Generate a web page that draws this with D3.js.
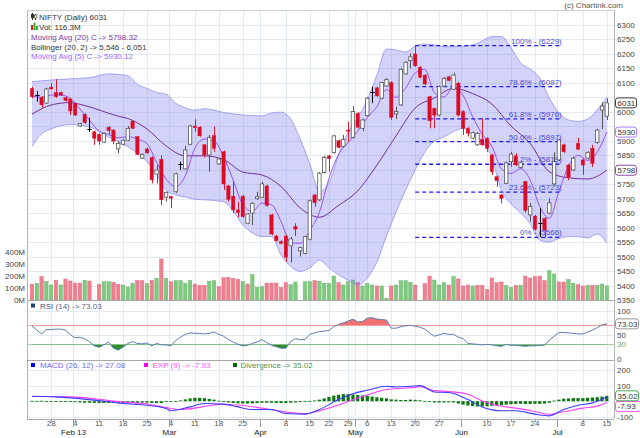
<!DOCTYPE html>
<html><head><meta charset="utf-8">
<script src="https://cdn.jsdelivr.net/npm/d3@7"></script>
<style>body{margin:0;background:#fff}svg{display:block;font-family:"Liberation Sans",Arial,Helvetica,sans-serif}</style>
</head><body><svg id="c" width="640" height="438"></svg>
<script>
// ---------------- DATA ----------------
const opens=[6081,6058,6049,6030,6085,6067,6067,6049,6044,6028,5951,5991,5941,5931,5923,5895,5947,5937,5872,5888,5902,5968,5914,5840,5872,5842,5785,5836,5705,5707,5724,5819,5803,5888,5951,5947,5886,5851,5918,5820,5862,5744,5709,5661,5709,5615,5650,5700,5705,5744,5644,5571,5552,5571,5537,5603,5520,5511,5560,5713,5696,5790,5848,5859,5900,5880,5937,5912,5995,5943,5987,6070,6083,6047,6089,6101,5993,6024,6131,6177,6200,6154,6127,6052,6012,5989,6089,6121,6078,6099,6001,5943,5909,5886,5905,5909,5851,5776,5713,5753,5828,5848,5808,5759,5644,5640,5615,5632,5650,5751,5834,5886,5816,5799,5891,5834,5840,5874,5894,6006,5985];
const highs=[6087,6072,6055,6083,6099,6113,6070,6052,6048,6032,5962,5995,5980,5934,5926,5928,5951,5940,5899,5905,5951,5972,5917,5856,5876,5846,5816,5850,5725,5710,5790,5828,5882,5955,5975,5950,5889,5920,5949,5840,5866,5748,5762,5690,5713,5650,5688,5724,5759,5748,5648,5575,5556,5575,5568,5615,5534,5572,5697,5716,5792,5848,5851,5921,5904,5920,5966,6020,5999,5976,6051,6087,6087,6104,6116,6105,6018,6151,6175,6202,6229,6158,6130,6055,6015,6091,6120,6125,6135,6103,6005,5947,5932,5930,5978,5912,5855,5780,5716,5828,5862,5857,5828,5762,5686,5644,5667,5636,5701,5860,5907,5890,5820,5845,5910,5838,5864,5886,5941,6033,6047];
const lows=[6047,6035,6014,6027,6077,6048,6055,6036,5989,5985,5949,5958,5931,5886,5886,5892,5922,5888,5857,5885,5899,5940,5851,5837,5855,5753,5753,5678,5690,5667,5720,5799,5800,5885,5931,5914,5843,5793,5862,5817,5730,5690,5650,5636,5634,5612,5609,5697,5702,5672,5574,5552,5543,5482,5479,5571,5500,5508,5556,5672,5692,5787,5793,5856,5874,5877,5897,5908,5943,5933,5984,6030,6052,6044,6086,5972,5975,6020,6128,6150,6155,6116,6092,5943,5943,5985,6086,6105,6075,5985,5920,5915,5905,5882,5883,5862,5782,5741,5684,5750,5810,5813,5804,5652,5621,5590,5568,5566,5646,5745,5830,5858,5764,5796,5868,5782,5836,5809,5890,5940,5972];
const closes=[6052,6058,6024,6079,6079,6052,6058,6039,6003,5989,5960,5963,5941,5909,5899,5925,5935,5899,5891,5902,5943,5943,5853,5853,5858,5765,5799,5696,5722,5701,5786,5819,5868,5951,5945,5917,5851,5911,5874,5837,5751,5698,5661,5652,5638,5647,5684,5707,5751,5676,5578,5555,5546,5498,5561,5595,5531,5569,5693,5686,5788,5843,5838,5917,5877,5905,5933,6001,5947,5972,6047,6070,6055,6101,6112,5981,6001,6147,6171,6190,6159,6119,6096,5969,5989,6087,6116,6108,6127,5989,5943,5926,5928,5926,5886,5874,5793,5762,5701,5824,5854,5817,5824,5659,5673,5594,5615,5592,5686,5828,5903,5862,5774,5840,5871,5816,5860,5822,5937,6020,6031];
const volumes=[130,138,193,151,124,163,124,174,157,140,140,163,157,0,130,151,151,146,130,124,107,138,160,160,135,163,179,339,179,151,160,160,138,160,132,121,121,154,160,110,184,187,179,171,154,132,209,105,110,140,140,140,105,143,127,149,0,151,151,160,154,138,138,198,143,124,151,165,146,116,138,124,116,116,14,116,124,160,160,146,124,0,138,198,165,124,143,124,193,174,116,124,116,121,121,88,182,143,149,121,105,121,121,198,182,193,198,160,242,215,149,149,171,138,127,116,121,121,121,132,116.3];
const volDir=[-1,1,-1,1,1,-1,1,-1,-1,-1,-1,1,-1,0,-1,1,1,-1,-1,1,1,1,-1,-1,1,-1,1,-1,1,-1,1,1,1,1,-1,-1,-1,1,1,-1,-1,-1,-1,-1,1,-1,1,1,1,-1,-1,-1,-1,-1,1,1,0,1,1,-1,1,1,1,1,-1,1,1,1,-1,1,1,1,-1,1,1,-1,1,1,1,1,-1,0,-1,-1,1,1,1,-1,1,-1,-1,-1,1,-1,-1,-1,-1,-1,-1,1,1,-1,1,-1,-1,-1,-1,-1,1,1,-1,-1,1,1,-1,-1,1,-1,1,1,1];
const bandIdx=[0,2,4,8,12,16,20,22,24,26,28,30,32,34,36,38,40,42,44,46,48,50,52,54,56,58,60,62,64,66,68,70,72,74,76,78,80,82,84,86,88,90,92,94,96,98,100,102,104,106,108,110,112,114,116,118,120];
const bbUpper=[6104,6107,6110,6114,6118,6131,6125,6095,6081,6067,6061,6030,6014,6006,6011,6006,5998,5993,5989,5987,5986,5996,5999,5975,5906,5820,5725,5755,5851,5930,5979,6041,6127,6217,6214,6207,6227,6234,6231,6225,6225,6227,6231,6245,6260,6260,6222,6169,6148,6117,6048,5996,5972,5967,5975,6006,6051];
const bbLower=[5880,5924,5941,5956,5948,5913,5879,5858,5828,5785,5730,5713,5706,5698,5696,5694,5689,5658,5609,5582,5569,5569,5506,5466,5449,5461,5488,5461,5437,5418,5402,5426,5481,5571,5654,5730,5799,5861,5899,5913,5932,5943,5920,5896,5841,5730,5682,5651,5613,5557,5550,5563,5569,5569,5564,5578,5546];
const ma20Idx=[0,3,6,8,10,13,16,18,20,24,28,32,36,40,44,48,52,56,60,64,68,72,76,80,84,88,92,96,100,104,108,112,116,120];
const ma20=[5992,6018,6030,6032,6026,6012,5995,5985,5977,5941,5882,5848,5848,5835,5792,5782,5742,5668,5636,5677,5727,5816,5917,6013,6048,6081,6063,6027,5951,5891,5793,5772,5768,5798.32];
const ma5Idx=d3.range(0,121,2);
const ma5=[6055,6050,6058,6058,6046,6010,5971,5934,5922,5910,5914,5906,5890,5826,5768,5741,5779,5874,5906,5900,5845,5764,5680,5656,5685,5679,5621,5548,5546,5590,5653,5770,5853,5894,5933,5980,6018,6077,6050,6082,6134,6147,6066,6051,6085,6057,5983,5922,5881,5803,5787,5804,5765,5673,5632,5725,5811,5850,5832,5861,5930.12];
const rsi=[68.6,60,52,61,61,62,62,60,50,44,45,42,36,27,24,29,35,22,18,24,32,36,32,31,33,27,32,29,29,27,38,45,51,54,53,53,52,53,56,51,47,40,35,30,27,28,32,35,40,34,28,25,22,22,36,42,40,40,51,54,57,58,59,67,72,75,79,83,77,78,85,86,83,82,81,64,64,67,69,70,68,66,62,54,47,50,53,51,51,45,42,32,31,30,29,30,29,27,26,30,28,28,27,26,27,27,28,28,39,47,55,55,54,53,52,52,56,60,65,71,73.03];
const macdIdx=[0,5,10,16,19,24,28,29,33,36,40,43,46,50,53,57,60,64,67,70,74,76,79,81,84,87,91,94,98,101,105,108,111,114,117,120];
const macdVals=[32,28,17,-4,-15,-26,-47,-62,-37,-15,-19,-37,-54,-54,-80,-84,-54,11,49,71,97,92,97,101,60,56,11,-37,-62,-62,-84,-95,-54,-26,-11,27.08];
const expIdx=[0,5,10,16,19,24,28,31,35,39,43,48,53,57,60,64,67,70,74,79,81,84,87,91,94,98,101,105,108,111,115,118,120];
const expVals=[31,30,25,5,-6,-18,-42,-54,-40,-21,-25,-45,-70,-81,-62,-25,10,40,76,87,94,70,63,45,2,-33,-45,-67,-85,-69,-45,-32,-7.93];
const divergence=[2,2,3,1,1,-2,-3,-4,-5,-6,-8,-10,-10,-11,-12,-12,-11,-10,-11,-12,-12,-11,-10,-9,-10,-11,-12,-12,-5,-3,0,5,12,18,22,22,20,15,10,3,-3,-8,-12,-14,-15,-15,-14,-12,-10,-10,-10,-12,-12,-12,-10,-8,-5,-3,2,5,10,18,28,36,42,46,46,44,40,38,35,30,26,22,18,12,10,8,8,10,9,6,2,-4,-8,-9,-8,-7,-8,-15,-22,-28,-32,-34,-34,-33,-30,-28,-26,-22,-20,-18,-17,-18,-18,-17,-17,-15,-10,4,10,16,18,20,20,20,22,24,26,30,35.02];
const fibLabels=["100%","78.6%","61.8%","50.0%","38.2%","23.6%","0%"];
const fibValues=[6229,6087,5976,5897,5819,5723,5566];
const fibFrom=80, fibTo=110.6;
const dayTickIdx=[4,9,14,19,24,29,34,39,44,53,58,62,66,70,75,80,85,95,100,105,115,120];
const dayTickLabels=["28","4","11","18","25","4","11","18","25","8","15","22","29","6","13","20","27","10","17","24","8","15"];
const monthIdx=[9,29,48,68,90,110];
const monthLabels=["Feb 13","Mar","Apr","May","Jun","Jul"];
const priceTicks=d3.range(5350,6301,50);
const volTicks=[0,100,200,300,400];
const rsiTicks=[100,50,0];
const macdTicks=[200,100,-100];

// ---------------- LAYOUT ----------------
const xL=27,xR=614,yTop=10,yBot=419;
const x=d3.scaleLinear().domain([0,120]).range([32,606.8]);
const yP=d3.scaleLinear().domain([5350,6300]).range([300,25]);
const yV=d3.scaleLinear().domain([0,400]).range([300,251.6]);
const yR=d3.scaleLinear().domain([0,100]).range([358.7,311]);
const yM=d3.scaleLinear().domain([-100,200]).range([416.6,370.4]);
const svg=d3.select('#c');
const FS=8;
const px=v=>Math.round(v)+0.5;
svg.append('rect').attr('width',640).attr('height',438).attr('fill','#fff');

// grid
const grid=svg.append('g').attr('stroke','#e1ebf1').attr('shape-rendering','crispEdges');
priceTicks.forEach(p=>grid.append('line').attr('x1',xL).attr('x2',xR).attr('y1',px(yP(p))).attr('y2',px(yP(p))));
[100,50].forEach(v=>grid.append('line').attr('x1',xL).attr('x2',xR).attr('y1',px(yR(v))).attr('y2',px(yR(v))));
[200,100,0,-100].forEach(v=>grid.append('line').attr('x1',xL).attr('x2',xR).attr('y1',px(yM(v))).attr('y2',px(yM(v))));
const monthX=monthIdx.map(i=>x(i-0.5));
const vx=[];
dayTickIdx.forEach(i=>{const xx=x(i); if(!monthX.some(m=>Math.abs(m-xx)<4)) vx.push(xx);});
monthX.forEach(m=>vx.push(m));
vx.forEach(v=>grid.append('line').attr('x1',px(v)).attr('x2',px(v)).attr('y1',yTop).attr('y2',yBot));

// volume
const idx=d3.range(closes.length);
const bw=3.4;
svg.append('g').selectAll('rect').data(idx.filter(i=>volumes[i]>0)).enter().append('rect')
 .attr('x',i=>x(i)-bw/2).attr('width',bw)
 .attr('y',i=>yV(volumes[i])).attr('height',i=>yV(0)-yV(volumes[i]))
 .attr('fill',i=>volDir[i]>0?'#80c980':'#ef8090')
 .attr('stroke',i=>volDir[i]>0?'#66b566':'#e26a7c').attr('stroke-width',0.5);

// bollinger band
const band=bandIdx.map((i,k)=>({i,u:bbUpper[k],l:bbLower[k]}));
svg.append('path').datum(band)
 .attr('d',d3.area().x(d=>x(d.i)).y0(d=>yP(d.l)).y1(d=>yP(d.u)).curve(d3.curveMonotoneX))
 .attr('fill','rgba(112,112,240,0.31)');
svg.append('path').datum(band).attr('d',d3.line().x(d=>x(d.i)).y(d=>yP(d.u)).curve(d3.curveMonotoneX)).attr('fill','none').attr('stroke','#9090f0').attr('stroke-width',0.8);
svg.append('path').datum(band).attr('d',d3.line().x(d=>x(d.i)).y(d=>yP(d.l)).curve(d3.curveMonotoneX)).attr('fill','none').attr('stroke','#9090f0').attr('stroke-width',0.8);

// moving averages
svg.append('path').datum(ma20Idx.map((i,k)=>[i,ma20[k]]))
 .attr('d',d3.line().x(d=>x(d[0])).y(d=>yP(d[1])).curve(d3.curveMonotoneX))
 .attr('fill','none').attr('stroke','#6f2f96').attr('stroke-width',1);
svg.append('path').datum(ma5Idx.map((i,k)=>[i,ma5[k]]))
 .attr('d',d3.line().x(d=>x(d[0])).y(d=>yP(d[1])).curve(d3.curveMonotoneX))
 .attr('fill','none').attr('stroke','#9a50f2').attr('stroke-width',1);

// fib levels
const fib=svg.append('g');
fibValues.forEach((v,k)=>{
  const yy=yP(v);
  fib.append('line').attr('x1',x(fibFrom)).attr('x2',x(fibTo)).attr('y1',yy).attr('y2',yy)
   .attr('stroke','#1c1cf5').attr('stroke-width',1.3).attr('stroke-dasharray','4,3');
  fib.append('text').attr('x',x(fibTo)).attr('y',yy-2).attr('text-anchor','end')
   .attr('font-size',FS).attr('fill','#4a4ad2').text(fibLabels[k]+' - ('+v+')');
});

// candles
const cg=svg.append('g');
idx.forEach(i=>{
  const o=opens[i],c=closes[i],h=highs[i],l=lows[i];
  const cx=px(x(i));
  const doji=o===c, up=c>o;
  const col=doji?'#000':(up?'#555':'#dc1a30');
  cg.append('line').attr('x1',cx).attr('x2',cx).attr('y1',yP(h)).attr('y2',yP(l)).attr('stroke',col).attr('stroke-width',1);
  if(doji){
    cg.append('line').attr('x1',cx-2.2).attr('x2',cx+2.2).attr('y1',px(yP(c))).attr('y2',px(yP(c))).attr('stroke','#000').attr('stroke-width',1);
  } else {
    const y1=yP(Math.max(o,c)),y2=yP(Math.min(o,c));
    cg.append('rect').attr('x',x(i)-bw/2).attr('y',y1).attr('width',bw).attr('height',Math.max(1,y2-y1))
      .attr('fill',up?'#fff':'#dc0a26').attr('stroke',up?'#555':'#dc0a26').attr('stroke-width',up?0.8:0.4);
  }
});

// RSI panel
svg.append('line').attr('x1',xL).attr('x2',xR).attr('y1',px(yR(70))).attr('y2',px(yR(70))).attr('stroke','#f0a0a0');
svg.append('line').attr('x1',xL).attr('x2',xR).attr('y1',px(yR(30))).attr('y2',px(yR(30))).attr('stroke','#a6d0a6');
const defs=svg.append('defs');
defs.append('clipPath').attr('id','above').append('rect').attr('x',xL).attr('y',300).attr('width',xR-xL).attr('height',yR(70)-300);
defs.append('clipPath').attr('id','below').append('rect').attr('x',xL).attr('y',yR(30)).attr('width',xR-xL).attr('height',360-yR(30));
svg.append('path').datum(idx).attr('clip-path','url(#above)')
 .attr('d',d3.area().x(i=>x(i)).y0(yR(70)).y1(i=>yR(rsi[i]))).attr('fill','#f27272');
svg.append('path').datum(idx).attr('clip-path','url(#below)')
 .attr('d',d3.area().x(i=>x(i)).y0(yR(30)).y1(i=>yR(rsi[i]))).attr('fill','#2d8d2d');
svg.append('path').datum(idx).attr('d',d3.line().x(i=>x(i)).y(i=>yR(rsi[i])))
 .attr('fill','none').attr('stroke','#5a7db3').attr('stroke-width',1);

// MACD panel
svg.append('g').selectAll('rect').data(idx).enter().append('rect')
 .attr('x',i=>x(i)-1.6).attr('width',3.2)
 .attr('y',i=>Math.min(yM(0),yM(divergence[i])))
 .attr('height',i=>Math.max(0.8,Math.abs(yM(divergence[i])-yM(0))))
 .attr('fill','#0b760b');
svg.append('path').datum(expIdx.map((i,k)=>[i,expVals[k]]))
 .attr('d',d3.line().x(d=>x(d[0])).y(d=>yM(d[1])).curve(d3.curveMonotoneX))
 .attr('fill','none').attr('stroke','#ff3cff').attr('stroke-width',1.1);
svg.append('path').datum(macdIdx.map((i,k)=>[i,macdVals[k]]))
 .attr('d',d3.line().x(d=>x(d[0])).y(d=>yM(d[1])).curve(d3.curveMonotoneX))
 .attr('fill','none').attr('stroke','#3c3cff').attr('stroke-width',1.1);

// frame
const fr=svg.append('g').attr('stroke','#b4b4b4').attr('shape-rendering','crispEdges');
fr.append('line').attr('x1',xL+0.5).attr('x2',xL+0.5).attr('y1',yTop).attr('y2',yBot);
fr.append('line').attr('x1',xR+0.5).attr('x2',xR+0.5).attr('y1',yTop).attr('y2',yBot);
fr.append('line').attr('x1',xL).attr('x2',xR).attr('y1',yTop+0.5).attr('y2',yTop+0.5).attr('stroke','#d0d0d0');
[300,360,yBot].forEach(v=>fr.append('line').attr('x1',xL).attr('x2',xR).attr('y1',v+0.5).attr('y2',v+0.5).attr('stroke','#a8a8a8'));

// right axis labels
const boxesP=[{v:6031,t:'6031',c:'#222'},{v:5930.12,t:'5930',c:'#a070ff'},{v:5798.32,t:'5798',c:'#7d3aa0'}];
const ax=svg.append('g').attr('font-size',FS).attr('fill','#444');
priceTicks.forEach(p=>{
  const yy=yP(p);
  if(boxesP.some(b=>Math.abs(yP(b.v)-yy)<7)) return;
  ax.append('text').attr('x',617).attr('y',yy+3).text(p);
});
function box(yy,t,c,w){
  svg.append('rect').attr('x',615.5).attr('y',yy-5).attr('width',w||21).attr('height',10).attr('rx',2.5)
    .attr('fill','#fff').attr('stroke',c).attr('stroke-width',0.9);
  svg.append('text').attr('x',617.5).attr('y',yy+3).attr('font-size',FS).attr('fill','#333').text(t);
}
boxesP.forEach(b=>box(yP(b.v),b.t,b.c));
volTicks.forEach(v=>ax.append('text').attr('x',25).attr('y',yV(v)+3).attr('text-anchor','end').text(v+'M'));
rsiTicks.forEach(v=>ax.append('text').attr('x',617).attr('y',yR(v)+3).text(v));
svg.append('text').attr('x',617).attr('y',yR(30)+3).attr('font-size',FS).attr('fill','#6aa86a').text('30');
box(yR(73.03),'73.03','#8a8a8a',23);
macdTicks.forEach(v=>ax.append('text').attr('x',617).attr('y',yM(v)+3).text(v));
box(yM(35.02)+10.6,'-7.93','#ff40ff',26);
box(yM(35.02),'35.02','#3a9a3a',23);

// x axis
const xa=svg.append('g').attr('font-size',FS);
dayTickIdx.forEach((i,k)=>{
  xa.append('line').attr('x1',px(x(i))).attr('x2',px(x(i))).attr('y1',yBot).attr('y2',yBot+3).attr('stroke','#999');
  xa.append('text').attr('x',x(i)).attr('y',426).attr('text-anchor','middle').attr('fill','#555').text(dayTickLabels[k]);
});
monthIdx.forEach((i,k)=>{
  const mx=px(x(i-0.5));
  xa.append('line').attr('x1',mx).attr('x2',mx).attr('y1',yBot).attr('y2',yBot+8).attr('stroke','#999');
  xa.append('text').attr('x',mx).attr('y',435).attr('text-anchor','middle').attr('fill','#222').text(monthLabels[k]);
});

// legends
const lg=svg.append('g').attr('font-size',FS);
lg.append('line').attr('x1',32.5).attr('x2',32.5).attr('y1',13).attr('y2',20).attr('stroke','#333');
lg.append('rect').attr('x',31).attr('y',14).attr('width',3).attr('height',4).attr('fill','#333');
lg.append('line').attr('x1',35.5).attr('x2',35.5).attr('y1',14).attr('y2',20).attr('stroke','#333');
lg.append('rect').attr('x',34.5).attr('y',15).attr('width',2.5).attr('height',3).attr('fill','#fff').attr('stroke','#333').attr('stroke-width',0.6);
lg.append('rect').attr('x',31).attr('y',25).attr('width',2).attr('height',5).attr('fill','#d22');
lg.append('rect').attr('x',33.5).attr('y',23).attr('width',2).attr('height',7).attr('fill','#3a3');
lg.append('rect').attr('x',36).attr('y',26).attr('width',2).attr('height',4).attr('fill','#3a3');
lg.append('text').attr('x',39).attr('y',19.5).attr('fill','#333').text('NIFTY (Daily) 6031');
lg.append('text').attr('x',39).attr('y',30).attr('fill','#333').text('Vol: 116.3M');
lg.append('text').attr('x',31).attr('y',40).attr('fill','#7d3aa0').text('Moving Avg (20) C -> 5798.32');
lg.append('text').attr('x',31).attr('y',49.5).attr('fill','#333').text('Bollinger (20, 2) -> 5,546 - 6,051');
lg.append('text').attr('x',31).attr('y',59).attr('fill','#9966ff').text('Moving Avg (5) C -> 5930.12');
lg.append('rect').attr('x',31).attr('y',303.5).attr('width',4).attr('height',4).attr('fill','#1f3f7a');
lg.append('text').attr('x',40).attr('y',308.5).attr('fill','#566080').text('RSI (14) -> 73.03');
lg.append('rect').attr('x',31).attr('y',363).attr('width',4).attr('height',4).attr('fill','#0000ff');
lg.append('text').attr('x',40).attr('y',368).attr('fill','#6a6aff').text('MACD (26, 12) -> 27.08');
lg.append('rect').attr('x',144).attr('y',363).attr('width',4).attr('height',4).attr('fill','#ff00ff');
lg.append('text').attr('x',152.5).attr('y',368).attr('fill','#ff55ff').text('EXP (9) -> -7.93');
lg.append('rect').attr('x',233).attr('y',363).attr('width',4).attr('height',4).attr('fill','#006600');
lg.append('text').attr('x',240.5).attr('y',368).attr('fill','#4f8f4f').text('Divergence -> 35.02');
svg.append('text').attr('x',623).attr('y',8).attr('text-anchor','end').attr('font-size',FS).attr('fill','#555').text('(c) Chartink.com');
</script></body></html>
